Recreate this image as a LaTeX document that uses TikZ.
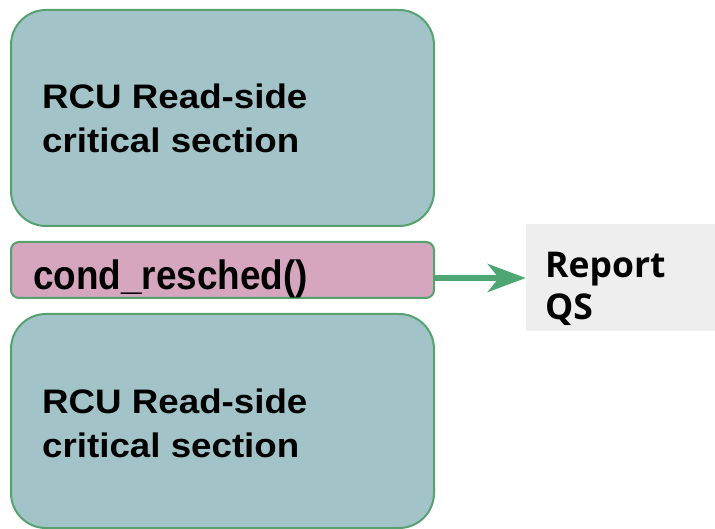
\documentclass[tikz,border=0pt]{standalone}
\usepackage{fontspec}
\usetikzlibrary{arrows.meta}
\newfontfamily\rcufont{Liberation Sans}[FakeStretch=1.08]
\newfontfamily\condfont{Liberation Sans}[FakeStretch=0.9]
\newfontfamily\qsfont{Open Sans}
\definecolor{tealfill}{HTML}{A2C4C9}
\definecolor{pinkfill}{HTML}{D5A6BD}
\definecolor{edgegreen}{HTML}{55A26F}
\definecolor{arrowgreen}{HTML}{4EA672}
\definecolor{grayfill}{HTML}{EEEEEE}
\tikzset{
  csbox/.style={draw=edgegreen, line width=2pt, fill=tealfill, rounded corners=35pt},
  condbox/.style={draw=edgegreen, line width=2pt, fill=pinkfill, rounded corners=8pt},
  qsbox/.style={fill=grayfill, draw=none},
  cstext/.style={anchor=base west, inner sep=0pt, align=left, font={\rcufont\bfseries\fontsize{34}{44}\selectfont}},
  condtext/.style={anchor=base west, inner sep=0pt, font={\condfont\bfseries\fontsize{41}{48}\selectfont}},
  qstext/.style={anchor=base west, inner sep=0pt, align=left, font={\qsfont\bfseries\fontsize{35.5}{43}\selectfont}},
  flow/.style={draw=arrowgreen, line width=6pt, -{Stealth[length=38pt, width=28pt, inset=11pt]}}
}
\begin{document}
\begin{tikzpicture}[x=1pt, y=-1pt]
\useasboundingbox (0,0) rectangle (715,529);
\path[csbox] (11,10) rectangle (434,226);
\node[inner sep=0pt, minimum width=423pt, minimum height=216pt] (top) at (222.5,118) {};
\path[csbox] (11,314) rectangle (434,528);
\node[inner sep=0pt, minimum width=423pt, minimum height=214pt] (bottom) at (222.5,421) {};
\node[condbox, inner sep=0pt, minimum width=423pt, minimum height=56pt] (cond) at (222.5,270) {};
\node[qsbox, inner sep=0pt, minimum width=189pt, minimum height=107pt] (qs) at (620.5,278) {};
\node[cstext] (toptext) at (42,153) {RCU Read-side\\critical section};
\node[cstext] (bottomtext) at (42,457) {RCU Read-side\\critical section};
\node[condtext] (condtext) at (33,290) {cond\_resched()};
\node[qstext] (qstext) at (545,320) {Report\\QS};
\draw[flow] (cond.east |- qs.west) -- (qs.west);
\end{tikzpicture}
\end{document}
